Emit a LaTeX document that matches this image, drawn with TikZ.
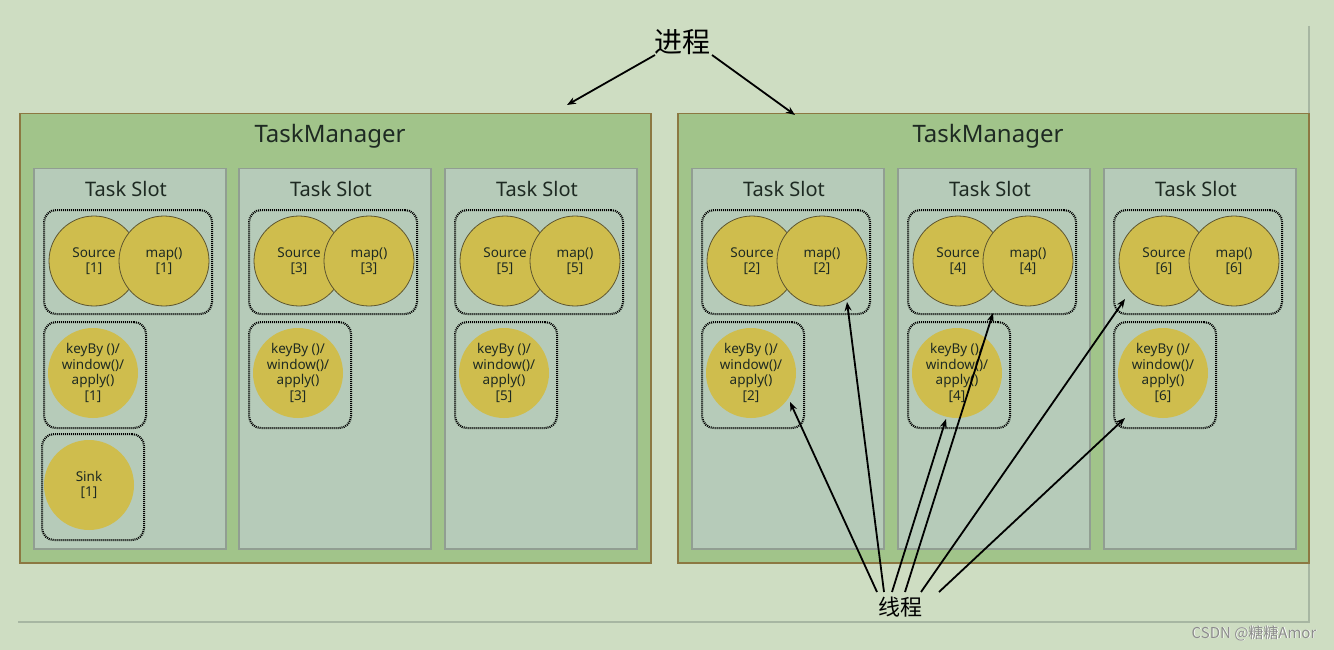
\documentclass[tikz,border=0pt]{standalone}
\usepackage{fontspec}
\setmainfont{Noto Sans}
\newfontfamily\cjk{Noto Sans CJK SC}
\usetikzlibrary{arrows.meta}
\definecolor{bg}{HTML}{CEDDC2}
\definecolor{tmfill}{HTML}{A1C48A}
\definecolor{tmdraw}{HTML}{8C7842}
\definecolor{slotfill}{HTML}{B6CBB9}
\definecolor{slotdraw}{HTML}{919E92}
\definecolor{circfill}{HTML}{CFBD4D}
\definecolor{circdraw}{HTML}{5E5630}
\definecolor{framegray}{HTML}{A7B6A2}
\definecolor{txt}{HTML}{1E2A22}
\tikzset{
  tmbox/.style={draw=tmdraw, fill=tmfill, line width=1.5pt, anchor=north west, inner sep=0pt},
  slotbox/.style={draw=slotdraw, fill=slotfill, line width=1.5pt, anchor=north west, minimum width=192pt, minimum height=380pt, inner sep=0pt},
  grp/.style={draw=black, line width=2.1pt, dash pattern=on 1pt off 1pt, rounded corners=12pt, anchor=north west, inner sep=0pt},
  opcirc/.style={circle, fill=circfill, draw=circdraw, line width=0.8pt, minimum size=90pt, inner sep=0pt, align=center, text=txt, font=\fontsize{13.5}{15.5}\selectfont},
  opcircnb/.style={opcirc, draw=none},
  tmtitle/.style={text=txt, font=\fontsize{24}{28}\selectfont},
  slottitle/.style={text=txt, font=\fontsize{20}{24}\selectfont},
  arr/.style={-{Stealth[length=9pt,width=7pt]}, line width=1.8pt, black},
}
\begin{document}
\begin{tikzpicture}[x=1pt,y=-1pt]
\fill[bg] (0,0) rectangle (1334,650);
\useasboundingbox (0,0) rectangle (1334,650);
% frame lines
\draw[framegray, line width=2pt] (1309,26) -- (1309,622) -- (18,622);
% TaskManagers
\node[tmbox, minimum width=631pt, minimum height=449pt] (tmL) at (19,113) {};
\node[tmbox, minimum width=631pt, minimum height=449pt] (tmR) at (677,113) {};
\node[tmtitle] (tmLt) at (330,136) {TaskManager};
\node[tmtitle] (tmRt) at (988,136) {TaskManager};
% slots
\foreach \n/\x in {1/33, 3/238, 5/444, 2/691, 4/897, 6/1103}{
  \node[slotbox] (slot\n) at (\x,168) {};
  \node[slottitle] (slott\n) at (\x+93,189) {Task Slot};
  \node[opcirc] (src\n) at (\x+61,261) {Source\\{[\n]}};
  \node[opcirc] (map\n) at (\x+131,261) {map()\\{[\n]}};
  \node[grp, minimum width=168pt, minimum height=104pt] (g\n) at (\x+10,209) {};
  \node[opcircnb] (key\n) at (\x+60,373) {keyBy ()/\\window()/\\apply()\\{[\n]}};
  \node[grp, minimum width=102pt, minimum height=106pt] (kg\n) at (\x+10,321) {};
}
% sink
\node[opcircnb] (sink1) at (89,485) {Sink\\{[1]}};
\node[grp, minimum width=102pt, minimum height=106pt] (sg1) at (41,433) {};
% 进程
\node[text=black, font=\cjk\fontsize{28}{32}\selectfont] (proc) at (682,42) {进程};
\coordinate (p1) at (655,55);
\coordinate (p2) at (712,55);
\coordinate (pe1) at (567,105);
\coordinate (pe2) at (795,115);
\draw[arr] (p1) -- (pe1);
\draw[arr] (p2) -- (pe2);
% 线程
\node[text=black, font=\cjk\fontsize{22}{26}\selectfont] (thr) at (900,607) {线程};
\coordinate (t1) at (877,592);
\coordinate (t2) at (884,592);
\coordinate (t3) at (892,592);
\coordinate (t4) at (905,592);
\coordinate (t5) at (921,592);
\coordinate (t6) at (939,592);
\coordinate (e1) at (790,402);
\coordinate (e2) at (847,302);
\coordinate (e3) at (946,419);
\coordinate (e4) at (993,313);
\coordinate (e5) at (1125,299);
\coordinate (e6) at (1125,418);
\draw[arr] (t1) -- (e1);
\draw[arr] (t2) -- (e2);
\draw[arr] (t3) -- (e3);
\draw[arr] (t4) -- (e4);
\draw[arr] (t5) -- (e5);
\draw[arr] (t6) -- (e6);
% watermark
\node[text=white, font=\cjk\fontsize{15}{17}\selectfont] (wms) at (1254.8,633.8) {CSDN @糖糖Amor};
\node[text=black!45, font=\cjk\fontsize{15}{17}\selectfont] (wm) at (1254,633) {CSDN @糖糖Amor};
\end{tikzpicture}
\end{document}
